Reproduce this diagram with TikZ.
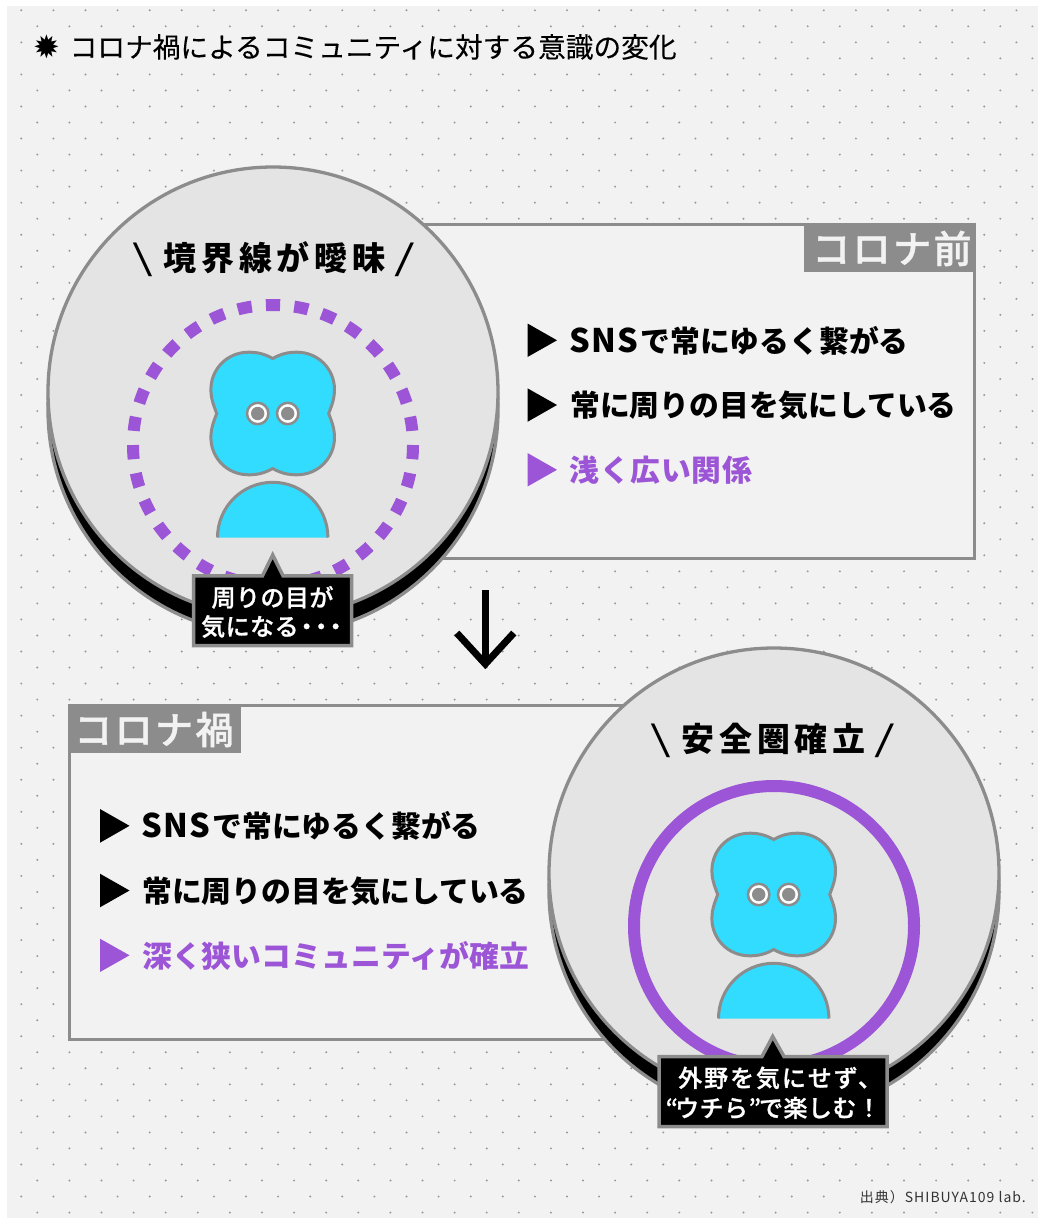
\documentclass[tikz,border=0pt]{standalone}
\usepackage{fontspec}
\usepackage{graphicx}
\newfontfamily\jp{Noto Sans CJK JP}
\newfontfamily\jpm{Noto Sans CJK JP Medium}
\newfontfamily\djv{DejaVu Sans}
\definecolor{bgc}{HTML}{F2F2F2}
\definecolor{circ}{HTML}{E4E4E4}
\definecolor{gr}{HTML}{8C8C8C}
\definecolor{pur}{HTML}{9B55D6}
\definecolor{cy}{HTML}{31DCFF}
\definecolor{dotc}{HTML}{9A9A9A}
\definecolor{foot}{HTML}{333333}
\newcommand{\headleft}{{\mdseries\scalebox{1.6}[1.05]{\textbackslash}}\hspace{11pt}}
\newcommand{\headright}{\hspace{9pt}{\mdseries\scalebox{1.6}[1.05]{/}}}
\newcommand{\snsword}{{\fontsize{32.5}{30}\selectfont S\hspace{1.5pt}N\hspace{1.5pt}S}\hspace{2pt}}
\tikzset{
  panelbox/.style={fill=bgc,draw=gr,line width=3pt},
  tagbox/.style={fill=gr,draw=none},
  tagtext/.style={text=bgc,inner sep=0pt,anchor=base west,font={\jpm\fontsize{38}{38}\selectfont\addfontfeature{LetterSpace=6.5,FakeBold=1.2}}},
  disc/.style={fill=circ,draw=gr,line width=3.3pt},
  discshadow/.style={fill=black,draw=gr,line width=3.3pt},
  headtext/.style={text=black,inner sep=0pt,anchor=base,font={\jp\bfseries\fontsize{33}{33}\selectfont\addfontfeature{LetterSpace=14}}},
  item/.style={text=black,inner sep=0pt,anchor=base west,font={\jp\bfseries\fontsize{29.8}{30}\selectfont}},
  itempur/.style={item,text=pur},
  tri/.style={fill=black,draw=none},
  tripur/.style={fill=pur,draw=none},
  ringdash/.style={draw=pur,line width=12pt,dash pattern=on 14.19pt off 14.19pt,dash phase=14.19pt},
  ringsolid/.style={draw=pur,line width=12pt},
  figfill/.style={fill=cy,draw=none},
  figline/.style={draw=gr,line width=3pt},
  callout/.style={fill=black,draw=gr,line width=3.5pt,miter limit=10},
  calltext/.style={text=white,inner sep=0pt,anchor=base,font={\jpm\fontsize{24}{24}\selectfont\addfontfeature{LetterSpace=2,FakeBold=1}}},
  titletext/.style={text=black,inner sep=0pt,anchor=base west,font={\jp\fontsize{27.7}{28}\selectfont\addfontfeature{FakeBold=0.25}}},
  startext/.style={text=black,inner sep=0pt,anchor=center,font={\djv\fontsize{32}{32}\selectfont}},
  foottext/.style={text=foot,inner sep=0pt,anchor=base east,font={\jp\fontsize{14}{14}\selectfont\addfontfeature{LetterSpace=7}}},
}
\newcommand{\personfig}[2]{%
  \begin{scope}[shift={(#1,#2)}]
    \path[figfill,figline] (0,-55) .. controls (8,-59.5) and (15,-61.3) .. (24,-61.3)
      .. controls (46,-61.3) and (61.8,-44) .. (61.8,-24)
      .. controls (61.8,-14) and (58.5,-7) .. (56,0)
      .. controls (58.5,7) and (61.8,14) .. (61.8,24)
      .. controls (61.8,44) and (46,61.3) .. (24,61.3)
      .. controls (15,61.3) and (8,59.5) .. (0,55)
      .. controls (-8,59.5) and (-15,61.3) .. (-24,61.3)
      .. controls (-46,61.3) and (-61.8,44) .. (-61.8,24)
      .. controls (-61.8,14) and (-58.5,7) .. (-56,0)
      .. controls (-58.5,-7) and (-61.8,-14) .. (-61.8,-24)
      .. controls (-61.8,-44) and (-46,-61.3) .. (-24,-61.3)
      .. controls (-15,-61.3) and (-8,-59.5) .. (0,-55) -- cycle;
    \foreach \ex in {-15,15}{
      \path[fill=white,draw=gr,line width=2.5pt] (\ex,0) circle[radius=10.7pt];
      \path[fill=gr] (\ex,0) circle[radius=6.7pt];
    }
    \path[figfill] (-55.2,124) arc[start angle=180,end angle=0,radius=55.2pt] -- cycle;
    \draw[figline] (-55.2,124) arc[start angle=180,end angle=0,radius=55.2pt];
  \end{scope}}
\begin{document}
\begin{tikzpicture}[x=1pt,y=-1pt]
\useasboundingbox (0,0) rectangle (1038,1225);
\fill[white] (0,0) rectangle (1038,1225);
\fill[bgc] (7,6) rectangle (1038,1218);
% dot pattern
\foreach \k in {0,...,75}{
  \pgfmathsetmacro{\yy}{10.3+16.03*\k}
  \pgfmathsetmacro{\xo}{mod(\k,2)==0 ? 21.3 : 37.3}
  \foreach \i in {0,...,31}{
    \fill[dotc] ({\xo+32.1*\i},\yy) circle[radius=1.1pt];
  }
}
% text strips hide the dots
\fill[bgc] (30,34) rectangle (690,66);
\fill[bgc] (848,1187) rectangle (1036,1206);
% title
\node[startext] (star) at (47,47) {✹};
\node[titletext] (title) at (69.5,57.5) {コロナ禍によるコミュニティに対する意識の変化};
% upper panel
\path[panelbox] (400,224.5) rectangle (974,558.5);
\path[tagbox] (804,223) rectangle (975.5,272);
\node[tagtext] (tagA) at (812,263) {コロナ前};
\fill[tri] (527.5,323.5) -- (557,340.3) -- (527.5,357) -- cycle;
\fill[tri] (527.5,388.3) -- (557,405) -- (527.5,421.8) -- cycle;
\fill[tripur] (527.5,453) -- (557,469.8) -- (527.5,486.5) -- cycle;
\node[item] (a1) at (569,352) {\snsword で常にゆるく繋がる};
\node[item] (a2) at (570,416.5) {常に周りの目を気にしている};
\node[itempur] (a3) at (569.5,481.5) {\addfontfeature{LetterSpace=2.6}浅く広い関係};
% upper disc
\path[discshadow] (273,410) circle[radius=225pt];
\path[disc] (273,392) circle[radius=225pt];
\node[headtext] (headA) at (273.5,270.5) {\headleft 境界線が曖昧\headright};
\draw[ringdash] (273,445) circle[radius=140pt];
\personfig{272.7}{413.5}
\path[callout] (193.5,575.8) -- (262.5,575.8) -- (272.7,555) -- (283,575.8) -- (351.5,575.8) -- (351.5,645.5) -- (193.5,645.5) -- cycle;
\node[calltext] (ca1) at (272.5,606.5) {周りの目が};
\node[calltext,anchor=base west] (ca2) at (201,635.5) {気になる\hspace{-4pt}・\hspace{-9.5pt}・\hspace{-9.5pt}・};
% arrow
\coordinate (arrowtop) at (485.3,590);
\coordinate (arrowtip) at (485.3,664);
\draw[line width=7pt] (arrowtop) -- (arrowtip);
\draw[line width=7pt,miter limit=10] ([xshift=-28.5pt,yshift=31pt]arrowtip) -- (arrowtip) -- ([xshift=28.5pt,yshift=31pt]arrowtip);
% lower panel
\path[panelbox] (69.5,705.5) rectangle (700,1039.5);
\path[tagbox] (68,704) rectangle (240.5,753);
\node[tagtext] (tagB) at (74,744) {コロナ禍};
\fill[tri] (100,809) -- (129.5,825.8) -- (100,842.7) -- cycle;
\fill[tri] (100,873.7) -- (129.5,890.5) -- (100,907.3) -- cycle;
\fill[tripur] (100,938.7) -- (129.5,955.3) -- (100,972) -- cycle;
\node[item] (b1) at (141,837.5) {\snsword で常にゆるく繋がる};
\node[item] (b2) at (142,902) {常に周りの目を気にしている};
\node[itempur] (b3) at (142,967) {\addfontfeature{LetterSpace=0.3}深く狭いコミュニティが確立};
% lower disc
\path[discshadow] (774,891) circle[radius=225pt];
\path[disc] (774,873) circle[radius=225pt];
\node[headtext] (headB) at (772.5,751) {\headleft 安全圏確立\headright};
\draw[ringsolid] (774,926) circle[radius=140pt];
\personfig{773.7}{894.5}
\path[callout] (659,1056.5) -- (762,1056.5) -- (772.7,1036.5) -- (784,1056.5) -- (887,1056.5) -- (887,1126.5) -- (659,1126.5) -- cycle;
\node[calltext,anchor=base west] (cb1) at (678,1087) {\addfontfeature{LetterSpace=8}外野を気にせず、};
\node[calltext,anchor=base west] (cb2) at (665.5,1117) {“\hspace{-3pt}ウチら”\hspace{-2pt}で楽しむ！};
% source
\node[foottext] (src) at (1026,1202) {出典）SHIBUYA109 lab.};
\end{tikzpicture}
\end{document}
